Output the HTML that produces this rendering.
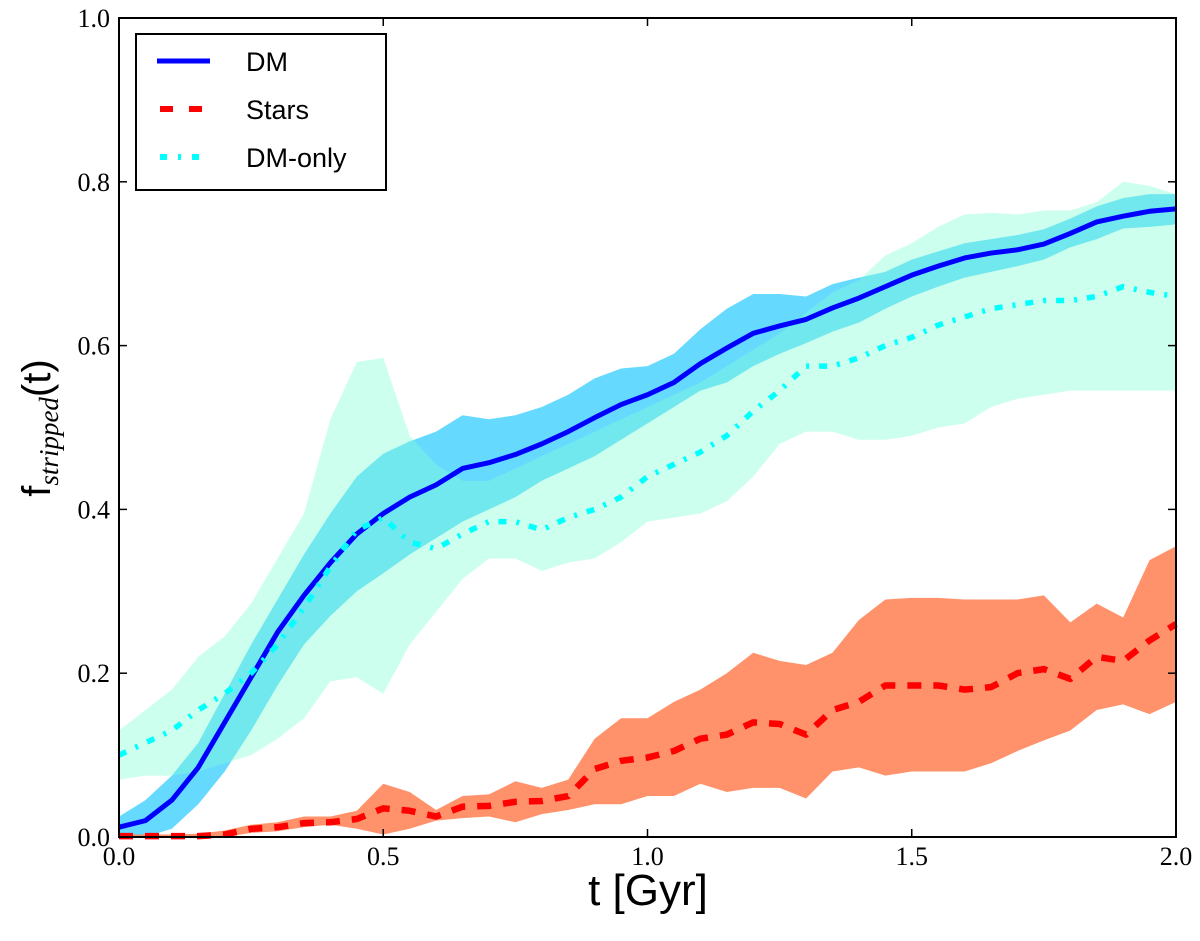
<!DOCTYPE html>
<html><head><meta charset="utf-8"><style>
body{margin:0;background:#fff;width:1200px;height:936px;overflow:hidden}
svg text{font-family:"Liberation Serif",serif}
</style></head><body>
<svg id="chart" width="1200" height="936" xmlns="http://www.w3.org/2000/svg">
<g id="bands"></g><g id="lines"></g><g id="axes"></g>
</svg>
<script>
const times = Array.from({length:41},(_,i)=>+(i*0.05).toFixed(2));
const dmMean = [0.012,0.02,0.045,0.085,0.14,0.195,0.25,0.295,0.335,0.37,0.395,0.415,0.43,0.45,0.457,0.467,0.48,0.495,0.512,0.528,0.54,0.555,0.578,0.597,0.615,0.624,0.632,0.646,0.658,0.672,0.686,0.697,0.707,0.713,0.717,0.724,0.737,0.751,0.758,0.764,0.767];
const dmUpper = [0.025,0.045,0.075,0.115,0.175,0.235,0.29,0.345,0.395,0.44,0.468,0.483,0.495,0.515,0.51,0.515,0.525,0.54,0.56,0.572,0.575,0.59,0.62,0.645,0.663,0.663,0.66,0.675,0.683,0.69,0.705,0.715,0.725,0.73,0.735,0.742,0.755,0.77,0.78,0.785,0.785];
const dmLower = [0.0,0.0,0.01,0.04,0.08,0.13,0.185,0.235,0.27,0.30,0.322,0.345,0.365,0.385,0.40,0.415,0.435,0.45,0.465,0.485,0.505,0.525,0.545,0.555,0.575,0.59,0.603,0.617,0.628,0.645,0.66,0.672,0.683,0.69,0.697,0.705,0.72,0.73,0.743,0.745,0.748];
const dmoMean = [0.10,0.115,0.13,0.155,0.175,0.2,0.235,0.28,0.33,0.375,0.39,0.36,0.352,0.37,0.385,0.385,0.375,0.39,0.4,0.415,0.44,0.455,0.47,0.49,0.52,0.545,0.575,0.575,0.585,0.6,0.61,0.625,0.635,0.645,0.65,0.655,0.655,0.66,0.672,0.665,0.66];
const dmoUpper = [0.13,0.155,0.18,0.22,0.245,0.285,0.34,0.395,0.51,0.58,0.585,0.49,0.455,0.435,0.435,0.45,0.465,0.48,0.495,0.51,0.525,0.54,0.555,0.575,0.595,0.615,0.64,0.665,0.68,0.71,0.725,0.745,0.76,0.762,0.76,0.765,0.765,0.775,0.8,0.795,0.785];
const dmoLower = [0.07,0.075,0.075,0.08,0.09,0.1,0.12,0.145,0.19,0.195,0.175,0.235,0.275,0.315,0.34,0.34,0.325,0.335,0.34,0.36,0.385,0.39,0.395,0.41,0.44,0.48,0.495,0.495,0.485,0.485,0.49,0.5,0.505,0.525,0.535,0.54,0.545,0.545,0.545,0.545,0.545];
const starMean = [0.001,0.001,0.001,0.001,0.003,0.01,0.012,0.017,0.018,0.022,0.035,0.032,0.025,0.037,0.038,0.043,0.044,0.05,0.083,0.093,0.097,0.105,0.12,0.125,0.14,0.138,0.125,0.155,0.165,0.185,0.185,0.185,0.18,0.183,0.2,0.205,0.193,0.22,0.215,0.24,0.26];
const starUpper = [0.003,0.003,0.003,0.004,0.008,0.015,0.018,0.025,0.025,0.032,0.065,0.055,0.033,0.05,0.052,0.068,0.06,0.07,0.12,0.145,0.145,0.165,0.18,0.2,0.225,0.215,0.21,0.225,0.265,0.29,0.292,0.292,0.29,0.29,0.29,0.295,0.262,0.285,0.268,0.338,0.355];
const starLower = [0,0,0,0,0,0.005,0.007,0.012,0.015,0.01,0.003,0.01,0.02,0.023,0.025,0.018,0.028,0.033,0.04,0.04,0.05,0.05,0.065,0.055,0.06,0.06,0.047,0.08,0.085,0.075,0.08,0.08,0.08,0.09,0.105,0.118,0.13,0.155,0.162,0.15,0.165];
const xTicks = [0,0.5,1.0,1.5,2.0];
const xTickLabels = ["0.0","0.5","1.0","1.5","2.0"];
const yTicks = [0,0.2,0.4,0.6,0.8,1.0];
const yTickLabels = ["0.0","0.2","0.4","0.6","0.8","1.0"];

const L=119,R=1176,T=18,B=837;
const X=t=>L+(t-0)/(2-0)*(R-L);
const Y=v=>B-(v-0)/(1-0)*(B-T);
const NS="http://www.w3.org/2000/svg";
function mk(tag,parent,attrs){const e=document.createElementNS(NS,tag);for(const k in attrs)e.setAttribute(k,attrs[k]);parent.appendChild(e);return e;}
const bands=document.getElementById('bands'),lines=document.getElementById('lines'),axes=document.getElementById('axes');
function band(up,lo,fill,op,name){
  let d='M'+times.map((t,i)=>X(t)+','+Y(up[i])).join('L');
  for(let i=times.length-1;i>=0;i--)d+='L'+X(times[i])+','+Y(lo[i]);
  const p=mk('path',bands,{d:d+'Z',fill:fill,'fill-opacity':op});
  
  
}
function line(v,col,w,dash,name){
  const p=mk('path',lines,{d:'M'+times.map((t,i)=>X(t)+','+Y(v[i])).join('L'),fill:'none',stroke:col,'stroke-width':w,'stroke-dasharray':dash,'stroke-linejoin':'round'});
  
  
}
band(dmUpper,dmLower,'#00bfff',0.6,'dm-band');
band(dmoUpper,dmoLower,'#7fffd4',0.4,'dm-only-band');
band(starUpper,starLower,'#ff7f50',0.85,'stars-band');
line(dmMean,'#0000ff',5,'none','dm-line');
line(dmoMean,'#00ffff',5.5,'8,10,3,10','dm-only-line');
line(starMean,'#ff0000',6.5,'14,12','stars-line');
const fr=mk('rect',axes,{x:L,y:T,width:R-L,height:B-T,fill:'none',stroke:'#000','stroke-width':2});


xTicks.forEach((t,i)=>{
  mk('line',axes,{x1:X(t),x2:X(t),y1:B,y2:B-8,stroke:'#000','stroke-width':1.5});
  mk('line',axes,{x1:X(t),x2:X(t),y1:T,y2:T+8,stroke:'#000','stroke-width':1.5});
  const tx=mk('text',axes,{x:X(t),y:B+28,'text-anchor':'middle','font-size':26});
  tx.textContent=xTickLabels[i];
  
  
});
yTicks.forEach((v,i)=>{
  mk('line',axes,{x1:L,x2:L+8,y1:Y(v),y2:Y(v),stroke:'#000','stroke-width':1.5});
  mk('line',axes,{x1:R,x2:R-8,y1:Y(v),y2:Y(v),stroke:'#000','stroke-width':1.5});
  const tx=mk('text',axes,{x:L-9,y:Y(v)+9,'text-anchor':'end','font-size':26});
  tx.textContent=yTickLabels[i];
  
  
});
</script>
<svg style="position:absolute;left:0;top:0" width="1200" height="936" xmlns="http://www.w3.org/2000/svg">
<g>
<rect x="136" y="34" width="250" height="156" fill="#fff" stroke="#000" stroke-width="2"/>
<line x1="157" x2="210" y1="61" y2="61" stroke="#0000ff" stroke-width="5"/>
<line x1="160" x2="203" y1="109" y2="109" stroke="#ff0000" stroke-width="6" stroke-dasharray="13,16"/>
<line x1="160" x2="203" y1="157" y2="157" stroke="#00ffff" stroke-width="6" stroke-dasharray="7,11,3,11"/>
<text x="246" y="71" font-size="27" style="font-family:'Liberation Sans',sans-serif">DM</text>
<text x="246" y="119" font-size="27" style="font-family:'Liberation Sans',sans-serif">Stars</text>
<text x="246" y="167" font-size="27" style="font-family:'Liberation Sans',sans-serif">DM-only</text>
</g>
<text x="648" y="905" text-anchor="middle" font-size="44" style="font-family:'Liberation Sans',sans-serif">t [Gyr]</text>
<text transform="translate(50,428) rotate(-90)" text-anchor="middle" font-size="40" style="font-family:'Liberation Sans',sans-serif">f<tspan font-size="27" font-style="italic" dy="8" style="font-family:'Liberation Serif',serif">stripped</tspan><tspan dy="-8">(t)</tspan></text>
</svg>
</body></html>
